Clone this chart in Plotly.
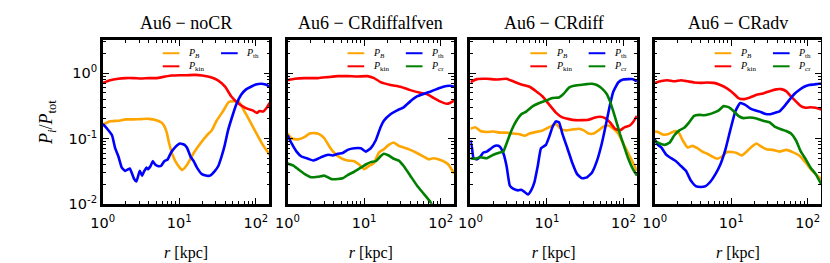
import plotly.graph_objects as go

# ---------------- data (r in kpc, P_i/P_tot) ----------------
titles = ["Au6 − noCR", "Au6 − CRdiffalfven", "Au6 − CRdiff", "Au6 − CRadv"]

# Panel 1: noCR
p1_B_r = [1.0, 1.25, 1.59, 1.99, 2.52, 3.16, 3.96, 5.02, 5.77, 6.30, 6.81, 7.37, 8.13, 9.43, 10.9, 12.7, 15.4, 18.8, 22.9, 26.5, 30.7, 37.4, 44.2, 51.2, 59.9, 70.8, 82.2, 100, 122, 151]
p1_B = [0.163, 0.183, 0.187, 0.196, 0.196, 0.198, 0.200, 0.191, 0.177, 0.158, 0.126, 0.084, 0.0565, 0.040, 0.033, 0.040, 0.060, 0.084, 0.112, 0.133, 0.187, 0.264, 0.362, 0.371, 0.367, 0.261, 0.191, 0.124, 0.0815, 0.0565]
p1_kin_r = [1.0, 1.25, 1.59, 1.99, 2.52, 3.16, 3.96, 5.02, 6.30, 7.98, 10.0, 12.5, 15.9, 19.9, 25.2, 31.6, 39.6, 47.8, 58.2, 70.8, 82.2, 90.6, 103, 112, 124, 137, 151]
p1_kin = [0.71, 0.78, 0.82, 0.84, 0.84, 0.83, 0.84, 0.84, 0.88, 0.92, 0.93, 0.93, 0.94, 0.92, 0.87, 0.78, 0.62, 0.44, 0.35, 0.30, 0.279, 0.27, 0.246, 0.264, 0.258, 0.29, 0.35]
p1_th_r = [1.0, 1.14, 1.32, 1.45, 1.60, 1.77, 1.95, 2.15, 2.26, 2.38, 2.57, 2.75, 3.04, 3.26, 3.45, 3.70, 3.89, 4.21, 4.50, 4.83, 5.22, 5.77, 6.36, 7.02, 7.74, 8.98, 10.2, 11.7, 12.7, 14.0, 15.4, 17.0, 19.7, 22.9, 25.2, 29.2, 32.3, 35.6, 39.3, 43.3, 50.2, 55.4, 64.2, 74.5, 86.3, 100, 116, 134, 151]
p1_th = [0.167, 0.141, 0.112, 0.071, 0.053, 0.0358, 0.032, 0.0339, 0.0347, 0.0302, 0.024, 0.022, 0.032, 0.027, 0.031, 0.0358, 0.0339, 0.038, 0.045, 0.040, 0.038, 0.038, 0.045, 0.0477, 0.060, 0.075, 0.084, 0.080, 0.071, 0.053, 0.045, 0.0358, 0.0285, 0.027, 0.027, 0.032, 0.038, 0.053, 0.080, 0.133, 0.235, 0.331, 0.466, 0.565, 0.62, 0.67, 0.69, 0.67, 0.62]

# Panel 2: CRdiffalfven
p2_B_r = [1.0, 1.13, 1.37, 1.68, 1.94, 2.26, 2.62, 3.04, 3.53, 4.09, 4.99, 6.09, 7.43, 8.61, 10.0, 11.6, 13.5, 15.6, 18.1, 21.0, 24.4, 28.4, 32.9, 40.1, 49.0, 59.7, 69.3, 80.4, 93.3, 108, 126, 150]
p2_B = [0.119, 0.100, 0.097, 0.106, 0.119, 0.121, 0.116, 0.100, 0.075, 0.060, 0.050, 0.046, 0.045, 0.040, 0.034, 0.038, 0.0425, 0.061, 0.0687, 0.080, 0.087, 0.077, 0.073, 0.067, 0.060, 0.053, 0.048, 0.050, 0.048, 0.045, 0.040, 0.029]
p2_kin_r = [1.0, 1.24, 1.68, 2.49, 3.36, 4.52, 6.09, 8.2, 11.0, 13.5, 16.4, 22.1, 29.8, 40.1, 54.0, 65.9, 80.4, 98, 120, 132, 150]
p2_kin = [0.78, 0.82, 0.84, 0.84, 0.87, 0.90, 0.90, 0.89, 0.90, 0.84, 0.73, 0.66, 0.62, 0.55, 0.50, 0.48, 0.42, 0.37, 0.34, 0.35, 0.38]
p2_th_r = [1.0, 1.13, 1.31, 1.52, 1.85, 2.15, 2.49, 2.89, 3.36, 3.90, 4.52, 5.25, 6.09, 7.43, 9.06, 10.5, 12.2, 14.2, 16.4, 18.1, 22.1, 27.0, 32.9, 40.1, 49.0, 59.7, 72.8, 88.7, 108, 132, 150]
p2_th = [0.112, 0.084, 0.063, 0.053, 0.049, 0.046, 0.049, 0.053, 0.0565, 0.055, 0.0585, 0.060, 0.067, 0.071, 0.071, 0.063, 0.071, 0.094, 0.149, 0.187, 0.235, 0.27, 0.30, 0.37, 0.44, 0.48, 0.52, 0.57, 0.62, 0.64, 0.62]
p2_cr_r = [1.0, 1.18, 1.37, 1.68, 2.04, 2.49, 3.04, 3.71, 4.52, 5.25, 6.09, 7.43, 9.06, 10.5, 12.2, 14.2, 16.4, 18.1, 21.0, 24.4, 28.4, 32.9, 40.1, 49.0, 59.7, 72.8, 84.5]
p2_cr = [0.0416, 0.0388, 0.034, 0.0285, 0.0255, 0.026, 0.027, 0.024, 0.024, 0.0246, 0.0276, 0.031, 0.0358, 0.040, 0.0435, 0.045, 0.0534, 0.0585, 0.055, 0.049, 0.046, 0.038, 0.027, 0.0191, 0.0144, 0.0108, 0.008]

# Panel 3: CRdiff
p3_B_r = [1.0, 1.16, 1.35, 1.64, 2.0, 2.43, 2.97, 3.61, 4.40, 5.11, 5.92, 7.21, 8.79, 10.7, 13.1, 15.1, 17.6, 21.4, 26.1, 30.3, 35.1, 40.7, 47.2, 54.7, 63.5, 73.6, 85.4, 99, 115, 133, 150]
p3_B = [0.141, 0.149, 0.130, 0.126, 0.128, 0.123, 0.123, 0.119, 0.116, 0.110, 0.119, 0.126, 0.133, 0.149, 0.167, 0.141, 0.133, 0.137, 0.141, 0.133, 0.119, 0.119, 0.133, 0.152, 0.158, 0.141, 0.119, 0.084, 0.060, 0.0425, 0.032]
p3_kin_r = [1.0, 1.22, 1.64, 2.20, 2.97, 3.61, 4.63, 5.92, 7.21, 8.79, 10.7, 13.1, 15.9, 19.4, 23.6, 28.8, 35.1, 42.7, 49.6, 57.5, 66.7, 77.3, 89.7, 104, 121, 133, 150]
p3_kin = [0.73, 0.81, 0.82, 0.80, 0.82, 0.75, 0.67, 0.62, 0.53, 0.44, 0.33, 0.249, 0.21, 0.198, 0.191, 0.191, 0.194, 0.21, 0.215, 0.205, 0.177, 0.141, 0.133, 0.149, 0.158, 0.177, 0.222]
p3_th_r = [1.0, 1.05, 1.10, 1.22, 1.35, 1.48, 1.64, 1.81, 2.0, 2.20, 2.43, 2.69, 2.97, 3.27, 3.61, 4.19, 4.63, 5.11, 5.64, 6.22, 6.87, 7.59, 8.37, 9.70, 10.7, 11.8, 13.1, 14.4, 15.9, 18.5, 21.4, 24.8, 28.8, 33.4, 38.7, 44.9, 52.1, 60.4, 66.7, 73.6, 85.4, 99, 115, 133, 150]
p3_th = [0.094, 0.071, 0.050, 0.048, 0.053, 0.061, 0.063, 0.0687, 0.075, 0.078, 0.075, 0.060, 0.038, 0.0191, 0.0171, 0.0161, 0.0164, 0.0152, 0.0139, 0.0161, 0.0215, 0.038, 0.071, 0.080, 0.106, 0.149, 0.183, 0.177, 0.119, 0.071, 0.0425, 0.0285, 0.0246, 0.0255, 0.030, 0.045, 0.084, 0.187, 0.33, 0.52, 0.72, 0.80, 0.81, 0.81, 0.75]
p3_cr_r = [1.0, 1.16, 1.35, 1.64, 2.0, 2.43, 2.69, 2.97, 3.44, 3.99, 4.63, 5.37, 6.54, 7.96, 9.70, 11.8, 14.4, 16.7, 19.4, 22.5, 27.4, 33.4, 38.7, 44.9, 52.1, 60.4, 66.7, 73.6, 81.3, 89.7, 99, 115, 133, 150]
p3_cr = [0.050, 0.049, 0.0516, 0.050, 0.0565, 0.061, 0.063, 0.084, 0.133, 0.187, 0.235, 0.258, 0.313, 0.35, 0.38, 0.416, 0.425, 0.49, 0.60, 0.64, 0.66, 0.68, 0.69, 0.66, 0.585, 0.48, 0.37, 0.26, 0.177, 0.119, 0.084, 0.050, 0.034, 0.027]

# Panel 4: CRadv
p4_B_r = [1.0, 1.10, 1.28, 1.48, 1.72, 1.90, 2.10, 2.32, 2.69, 3.12, 3.61, 4.19, 4.86, 5.64, 6.54, 7.59, 8.79, 10.2, 11.8, 13.7, 15.9, 18.5, 21.4, 24.8, 28.8, 35.1, 42.7, 52.1, 63.5, 77.3, 94.2, 109, 127, 150]
p4_B = [0.128, 0.126, 0.115, 0.116, 0.126, 0.130, 0.119, 0.094, 0.073, 0.077, 0.071, 0.063, 0.0585, 0.053, 0.049, 0.053, 0.062, 0.062, 0.060, 0.055, 0.063, 0.075, 0.084, 0.075, 0.0687, 0.067, 0.063, 0.067, 0.062, 0.055, 0.0425, 0.034, 0.0285, 0.024]
p4_kin_r = [1.0, 1.22, 1.48, 1.81, 2.20, 2.69, 3.27, 3.99, 4.86, 5.92, 7.21, 8.79, 10.7, 12.4, 14.4, 17.6, 21.4, 26.1, 31.8, 38.7, 44.9, 52.1, 60.4, 70.0, 81.3, 94.2, 109, 127, 150]
p4_kin = [0.71, 0.76, 0.78, 0.75, 0.78, 0.75, 0.72, 0.71, 0.72, 0.71, 0.66, 0.585, 0.49, 0.416, 0.40, 0.425, 0.466, 0.49, 0.53, 0.565, 0.57, 0.53, 0.44, 0.37, 0.313, 0.295, 0.30, 0.295, 0.279]
p4_th_r = [1.0, 1.10, 1.22, 1.41, 1.64, 1.90, 2.20, 2.56, 2.97, 3.44, 3.99, 4.63, 5.37, 6.22, 7.21, 8.37, 9.70, 11.3, 13.1, 15.1, 17.6, 20.4, 23.6, 27.4, 31.8, 36.9, 42.7, 49.6, 57.5, 66.7, 77.3, 89.7, 104, 121, 140, 150]
p4_th = [0.097, 0.080, 0.073, 0.0565, 0.050, 0.045, 0.038, 0.032, 0.0227, 0.0187, 0.0181, 0.0187, 0.022, 0.0285, 0.040, 0.067, 0.133, 0.26, 0.35, 0.33, 0.29, 0.27, 0.258, 0.24, 0.235, 0.246, 0.26, 0.313, 0.39, 0.48, 0.553, 0.62, 0.66, 0.67, 0.69, 0.69]
p4_cr_r = [1.0, 1.16, 1.35, 1.56, 1.81, 2.10, 2.43, 2.82, 3.27, 3.80, 4.40, 5.11, 5.92, 6.87, 7.96, 9.24, 10.7, 12.4, 14.4, 17.6, 21.4, 26.1, 31.8, 36.9, 42.7, 52.1, 60.4, 70.0, 81.3, 94.2, 109, 127, 150]
p4_cr = [0.092, 0.084, 0.080, 0.086, 0.112, 0.133, 0.146, 0.177, 0.222, 0.23, 0.227, 0.235, 0.249, 0.27, 0.313, 0.302, 0.264, 0.222, 0.205, 0.21, 0.203, 0.187, 0.177, 0.152, 0.141, 0.130, 0.119, 0.094, 0.063, 0.048, 0.0358, 0.0285, 0.020]

x_tickvals = [1, 10, 100]
x_ticktext = ["10<sup>0</sup>", "10<sup>1</sup>", "10<sup>2</sup>"]
y_tickvals = [0.01, 0.1, 1]
y_ticktext = ["10<sup>-2</sup>", "10<sup>-1</sup>", "10<sup>0</sup>"]

labels = {"B": "<i>P</i><sub><i>B</i></sub>", "kin": "<i>P</i><sub>kin</sub>",
          "th": "<i>P</i><sub>th</sub>", "cr": "<i>P</i><sub>cr</sub>"}
colors = {"B": "#FFA500", "kin": "#FF0000", "th": "#0000FF", "cr": "#008000"}

panels = [
    {"B": (p1_B_r, p1_B), "kin": (p1_kin_r, p1_kin), "th": (p1_th_r, p1_th)},
    {"B": (p2_B_r, p2_B), "kin": (p2_kin_r, p2_kin), "th": (p2_th_r, p2_th), "cr": (p2_cr_r, p2_cr)},
    {"B": (p3_B_r, p3_B), "kin": (p3_kin_r, p3_kin), "th": (p3_th_r, p3_th), "cr": (p3_cr_r, p3_cr)},
    {"B": (p4_B_r, p4_B), "kin": (p4_kin_r, p4_kin), "th": (p4_th_r, p4_th), "cr": (p4_cr_r, p4_cr)},
]

# ---------------- layout geometry ----------------
W, H = 830, 263
left_px = [84, 271.5, 457, 644]
panel_w = 169
top_px, bot_px = 33.5, 202
y_dom = [(H - bot_px) / H, (H - top_px) / H]

serif = "Liberation Serif, serif"
sans = "DejaVu Sans, sans-serif"

x_minor = [m * 10 ** k for k in range(0, 2) for m in range(2, 10)]
y_minor = [m * 10 ** k for k in range(-2, 1) for m in range(2, 10) if m * 10 ** k < 3.2]

fig = go.Figure()
layout = dict(width=W, height=H, margin=dict(l=0, r=0, t=0, b=0),
              paper_bgcolor="white", plot_bgcolor="white", showlegend=False)

annotations = []
shapes = []

legend_pos = {"B": (0, 0), "kin": (0, 1), "th": (1, 0), "cr": (1, 1)}
col_x = [0.36, 0.71]
row_y = [0.922, 0.842]
line_len = 0.10

for i, pdata in enumerate(panels):
    n = i + 1
    xa = "x" if n == 1 else f"x{n}"
    ya = "y" if n == 1 else f"y{n}"
    for key in ["B", "kin", "th", "cr"]:
        if key not in pdata:
            continue
        r, v = pdata[key]
        fig.add_trace(go.Scatter(x=r, y=v, mode="lines", name=labels[key],
                                 line=dict(color=colors[key], width=2.6, shape="spline", smoothing=0.4),
                                 xaxis=xa, yaxis=ya, showlegend=False))
        c, rw = legend_pos[key]
        shapes.append(dict(type="line", xref=f"{xa} domain", yref=f"{ya} domain",
                           x0=col_x[c], x1=col_x[c] + line_len, y0=row_y[rw], y1=row_y[rw],
                           line=dict(color=colors[key], width=2)))
        annotations.append(dict(text=labels[key], xref=f"{xa} domain", yref=f"{ya} domain",
                                x=col_x[c] + line_len + 0.04, y=row_y[rw], xanchor="left", yanchor="middle",
                                showarrow=False, font=dict(family=serif, size=10, color="black")))

    x0 = left_px[i] / W
    x1 = (left_px[i] + panel_w) / W
    axis_common = dict(type="log", showline=True, linewidth=2.5, linecolor="black",
                       mirror="allticks", ticks="inside", ticklen=6, tickwidth=1.3,
                       tickcolor="black", showgrid=False, zeroline=False,
                       tickfont=dict(family=sans, size=14.5, color="black"))
    layout["xaxis" if n == 1 else f"xaxis{n}"] = dict(
        axis_common, domain=[x0, x1], anchor=ya, range=[0, 2.1761],
        tickmode="array", tickvals=x_tickvals, ticktext=x_ticktext,
        ticklabelstandoff=4,
        minor=dict(tickmode="array", tickvals=x_minor, ticks="inside", ticklen=3,
                   tickwidth=1, tickcolor="black", showgrid=False),
        title=dict(text="<i>r</i> [kpc]", font=dict(family=serif, size=16, color="black"), standoff=17))
    layout["yaxis" if n == 1 else f"yaxis{n}"] = dict(
        axis_common, domain=y_dom, anchor=xa, range=[-2, 0.5],
        tickmode="array", tickvals=y_tickvals, ticktext=y_ticktext,
        showticklabels=(n == 1),
        minor=dict(tickmode="array", tickvals=y_minor, ticks="inside", ticklen=3,
                   tickwidth=1, tickcolor="black", showgrid=False),
        title=dict(text="<i>P</i><sub><i>i</i></sub>/<i>P</i><sub>tot</sub>" if n == 1 else "",
                   font=dict(family=serif, size=18, color="black"), standoff=12))
    annotations.append(dict(text=titles[i], xref="paper", yref="paper",
                            x=(x0 + x1) / 2, y=(H - 15) / H, xanchor="center", yanchor="middle",
                            showarrow=False, font=dict(family=serif, size=18, color="black")))

layout["annotations"] = annotations
layout["shapes"] = shapes
fig.update_layout(**layout)
fig.write_html("out.html")
